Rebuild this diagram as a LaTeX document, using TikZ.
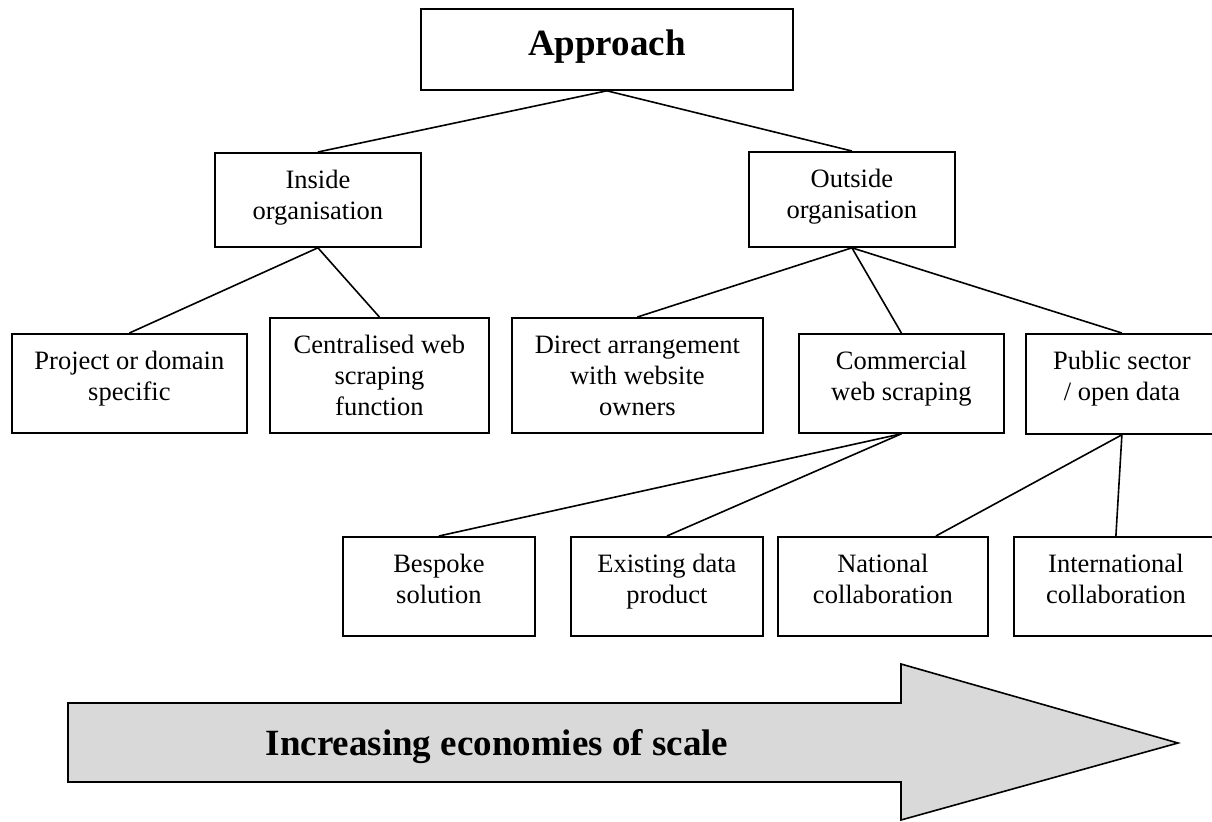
\documentclass[tikz,border=0pt]{standalone}
\usepackage{fontspec}
\setmainfont{Liberation Serif}
\definecolor{arrowgray}{HTML}{D9D9D9}
\newlength\px
\setlength\px{0.5pt}
% text set at the top of a fixed size box
\newcommand{\boxtext}[3]{\parbox[t][#2\px][t]{#1\px}{\centering\rule{0pt}{18pt}#3}}
\tikzset{
  box/.style={draw, line width=0.9pt, inner sep=0pt, anchor=north west,
    font=\fontsize{13.25pt}{15.5pt}\selectfont},
  link/.style={line width=0.8pt},
  big/.style={font=\fontsize{18.5pt}{22pt}\selectfont\bfseries},
}
\begin{document}
\begin{tikzpicture}[x=0.5pt, y=-0.5pt]
\useasboundingbox (0,0) rectangle (1212,821);

% top level
\node[box] (app) at (420,8) {\boxtext{372}{81}{\fontsize{18.5pt}{22pt}\bfseries\rule{0pt}{23.5pt}Approach}};
\node[box] (ins) at (214,152) {\boxtext{206}{94}{Inside\\organisation}};
\node[box] (out) at (748,151) {\boxtext{206}{95}{Outside\\organisation}};

% second level
\node[box] (prj) at (11,333) {\boxtext{235}{99}{Project or domain\\specific}};
\node[box] (cen) at (269,317) {\boxtext{219}{115}{Centralised web\\scraping\\function}};
\node[box] (dir) at (511,317) {\boxtext{251}{115}{Direct arrangement\\with website\\owners}};
\node[box] (com) at (798,333) {\boxtext{205}{99}{Commercial\\web scraping}};
\node[box] (pub) at (1025,333) {\boxtext{192}{100}{Public sector\\/ open data}};

% third level
\node[box] (bes) at (342,536) {\boxtext{192}{99}{Bespoke\\solution}};
\node[box] (exi) at (570,536) {\boxtext{192}{99}{Existing data\\product}};
\node[box] (nat) at (777,536) {\boxtext{210}{99}{National\\collaboration}};
\node[box] (int) at (1013,536) {\boxtext{204}{99}{International\\collaboration}};

% connectors
\draw[link] (app.south) -- (ins.north);
\draw[link] (app.south) -- (out.north);
\draw[link] (ins.south) -- (prj.north);
\draw[link] (ins.south) -- (cen.north);
\draw[link] (out.south) -- (dir.north);
\draw[link] (out.south) -- (com.north);
\draw[link] (out.south) -- (pub.north);
\draw[link] (com.south) -- (bes.north);
\draw[link] (com.south) -- (exi.north);
\draw[link] (pub.south) -- ([xshift=26.5pt]nat.north);
\draw[link] (pub.south) -- (int.north);

% scale arrow
\draw[link, fill=arrowgray] (68,703) -- (901,703) -- (901,664) -- (1178,743)
  -- (901,820) -- (901,782) -- (68,782) -- cycle;
\node[big, anchor=base] (eco) at (497,755) {Increasing economies of scale};
\end{tikzpicture}
\end{document}
